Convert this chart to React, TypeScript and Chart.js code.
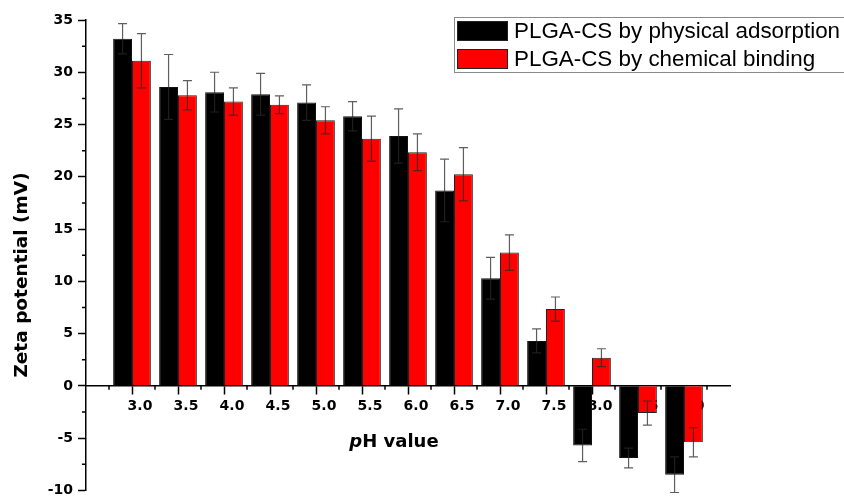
import React, { useEffect, useRef } from 'react';
import { Chart, registerables } from 'chart.js';

Chart.register(...registerables);

// ---- data ----
const phValues = ['3.0', '3.5', '4.0', '4.5', '5.0', '5.5', '6.0', '6.5', '7.0', '7.5', '8.0', '8.5', '9.0'];
const physicalAdsorption = [33.2, 28.6, 28.1, 27.9, 27.1, 25.8, 23.9, 18.7, 10.3, 4.3, -5.7, -6.9, -8.5];
const physicalAdsorptionErr = [1.45, 3.1, 1.9, 2.0, 1.7, 1.4, 2.6, 3.0, 2.0, 1.15, 1.55, 0.95, 1.7];
const chemicalBinding = [31.1, 27.8, 27.2, 26.9, 25.4, 23.65, 22.35, 20.25, 12.75, 7.35, 2.7, -2.6, -5.4];
const chemicalBindingErr = [2.6, 1.4, 1.3, 0.85, 1.3, 2.15, 1.75, 2.55, 1.7, 1.15, 0.85, 1.15, 1.4];
const seriesLabels = ['PLGA-CS by physical adsorption', 'PLGA-CS by chemical binding'];
const seriesColors = ['#000000', '#ff0000'];
const yMin = -10;
const yMax = 35;
const yStep = 5;
const yTitle = 'Zeta potential (mV)';
const xTitleItalic = 'p';
const xTitleRest = 'H value';

// one empty category on each side, as in the reference
const paddedLabels = ['', ...phValues, ''];
const pad = (arr: number[]) => [null, ...arr, null];
const errorSets = [pad(physicalAdsorptionErr), pad(chemicalBindingErr)];

const BOLD = '"DejaVu Sans", sans-serif';

const minorTicksPlugin = {
  id: 'minorTicks',
  beforeDatasetsDraw(chart: any) {
    const { ctx, chartArea } = chart;
    const xs = chart.scales.x;
    const ys = chart.scales.y;
    ctx.save();
    ctx.strokeStyle = '#000';
    ctx.lineWidth = 1.5;
    ctx.beginPath();
    const y0 = ys.getPixelForValue(0);
    for (let k = 0; k < paddedLabels.length - 1; k++) {
      const px = (xs.getPixelForTick(k) + xs.getPixelForTick(k + 1)) / 2;
      ctx.moveTo(px, y0);
      ctx.lineTo(px, y0 + 4);
    }
    for (let v = yMin + yStep / 2; v < yMax; v += yStep) {
      const py = ys.getPixelForValue(v);
      ctx.moveTo(chartArea.left - 4, py);
      ctx.lineTo(chartArea.left, py);
    }
    ctx.stroke();
    ctx.restore();
  },
};

const errorBarPlugin = {
  id: 'errorBars',
  afterDatasetsDraw(chart: any) {
    const { ctx } = chart;
    const ys = chart.scales.y;
    ctx.save();
    ctx.strokeStyle = 'rgba(40,40,40,0.75)';
    ctx.lineWidth = 1.2;
    errorSets.forEach((errs, di) => {
      const meta = chart.getDatasetMeta(di);
      const vals = chart.data.datasets[di].data;
      meta.data.forEach((el: any, i: number) => {
        const v = vals[i];
        const e = errs[i];
        if (v == null || e == null) return;
        const x = el.x;
        const yTop = ys.getPixelForValue(v + e);
        const yBot = ys.getPixelForValue(v - e);
        ctx.beginPath();
        ctx.moveTo(x, yTop);
        ctx.lineTo(x, yBot);
        ctx.moveTo(x - 4.5, yTop);
        ctx.lineTo(x + 4.5, yTop);
        ctx.moveTo(x - 4.5, yBot);
        ctx.lineTo(x + 4.5, yBot);
        ctx.stroke();
      });
    });
    ctx.restore();
  },
};

const decorPlugin = {
  id: 'decor',
  afterDraw(chart: any) {
    const { ctx, chartArea } = chart;
    ctx.save();
    // y axis title
    ctx.fillStyle = '#000';
    ctx.font = `bold 18.5px ${BOLD}`;
    ctx.textAlign = 'center';
    ctx.textBaseline = 'middle';
    ctx.translate(chartArea.left - 64, chartArea.top + 255);
    ctx.rotate(-Math.PI / 2);
    ctx.fillText(yTitle, 0, 0);
    ctx.restore();

    // x axis title with italic p
    ctx.save();
    ctx.fillStyle = '#000';
    ctx.textBaseline = 'alphabetic';
    ctx.textAlign = 'left';
    const fItal = `italic bold 18px ${BOLD}`;
    const fBold = `bold 18px ${BOLD}`;
    ctx.font = fItal;
    const w1 = ctx.measureText(xTitleItalic).width;
    ctx.font = fBold;
    const w2 = ctx.measureText(xTitleRest).width;
    const cx = chartArea.left + 308;
    const by = chartArea.top + 427;
    const sx = cx - (w1 + w2) / 2;
    ctx.font = fItal;
    ctx.fillText(xTitleItalic, sx, by);
    ctx.font = fBold;
    ctx.fillText(xTitleRest, sx + w1, by);
    ctx.restore();

    // legend
    ctx.save();
    const lx = chartArea.left + 368;
    const ly = chartArea.top - 3;
    ctx.strokeStyle = '#8a8a8a';
    ctx.lineWidth = 1;
    ctx.fillStyle = '#fff';
    ctx.fillRect(lx + 0.5, ly + 0.5, 400, 55);
    ctx.strokeRect(lx + 0.5, ly + 0.5, 400, 55);
    ctx.font = `22.4px "Liberation Sans", Arial, sans-serif`;
    ctx.textBaseline = 'middle';
    ctx.textAlign = 'left';
    chart.data.datasets.forEach((ds: any, i: number) => {
      const sy = ly + 4 + i * 28;
      ctx.fillStyle = ds.backgroundColor;
      ctx.fillRect(lx + 3, sy, 51, 20);
      ctx.strokeStyle = '#222';
      ctx.strokeRect(lx + 3.5, sy + 0.5, 50, 19);
      ctx.fillStyle = '#000';
      ctx.fillText(ds.label, lx + 60, sy + 10.5);
    });
    ctx.restore();
  },
};

export default function App() {
  const canvasRef = useRef<HTMLCanvasElement | null>(null);

  useEffect(() => {
    if (!canvasRef.current) return;
    const chart = new Chart(canvasRef.current, {
      type: 'bar',
      data: {
        labels: paddedLabels,
        datasets: [
          {
            label: seriesLabels[0],
            data: pad(physicalAdsorption),
            backgroundColor: seriesColors[0],
            borderColor: '#111',
            borderWidth: 1,
            categoryPercentage: 0.82,
            barPercentage: 1.0,
          },
          {
            label: seriesLabels[1],
            data: pad(chemicalBinding),
            backgroundColor: seriesColors[1],
            borderColor: '#222',
            borderWidth: 1,
            categoryPercentage: 0.82,
            barPercentage: 1.0,
          },
        ],
      },
      options: {
        animation: false,
        responsive: false,
        maintainAspectRatio: false,
        events: [],
        layout: { padding: { left: 0, right: 114, top: 20, bottom: 6 } },
        plugins: {
          legend: { display: false },
          tooltip: { enabled: false },
        },
        scales: {
          x: {
            type: 'category',
            offset: false,
            position: { y: 0 } as any,
            grid: {
              offset: false,
              drawOnChartArea: false,
              tickLength: 8,
              tickWidth: 1.5,
              tickColor: (c: any) =>
                c.index === 0 || c.index === paddedLabels.length - 1 ? 'rgba(0,0,0,0)' : '#000',
            },
            border: { color: '#000', width: 1.5 },
            ticks: {
              autoSkip: false,
              maxRotation: 0,
              minRotation: 0,
              padding: 4,
              labelOffset: 8,
              color: '#000',
              font: { family: BOLD, size: 14, weight: 'bold' },
            },
          },
          y: {
            type: 'linear',
            min: yMin,
            max: yMax,
            afterFit: (scale: any) => {
              scale.width = 86;
            },
            grid: {
              drawOnChartArea: false,
              tickLength: 8,
              tickWidth: 1.5,
              tickColor: '#000',
            },
            border: { color: '#000', width: 1.5 },
            ticks: {
              stepSize: yStep,
              padding: 5,
              color: '#000',
              font: { family: BOLD, size: 14, weight: 'bold', lineHeight: 0.8 },
            },
          },
        },
      },
      plugins: [minorTicksPlugin, errorBarPlugin, decorPlugin],
    });
    return () => chart.destroy();
  }, []);

  return (
    <div style={{ position: 'fixed', left: 0, top: 0, width: 844, height: 501, background: '#fff' }}>
      <canvas ref={canvasRef} width={844} height={501} style={{ display: 'block' }} />
    </div>
  );
}
